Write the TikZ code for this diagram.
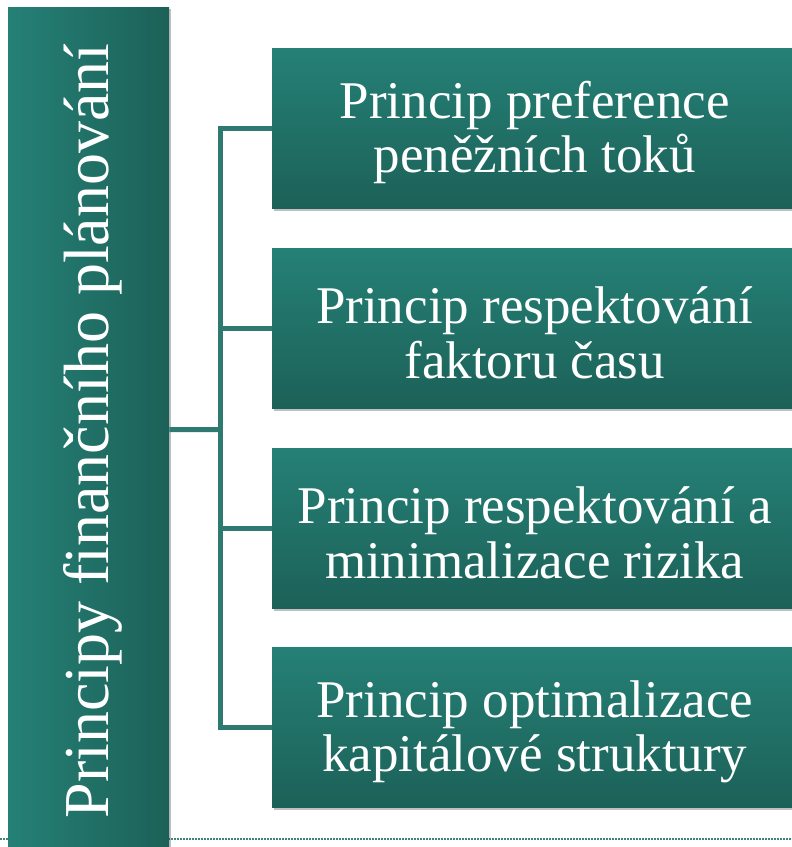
\documentclass[tikz,border=0pt]{standalone}
\usepackage{fontspec}
\setmainfont{Liberation Serif}
\usetikzlibrary{shadows,calc}
\definecolor{tealA}{HTML}{258076}
\definecolor{tealB}{HTML}{1C6158}
\definecolor{conn}{HTML}{2E7A70}
\definecolor{dotc}{HTML}{3F857C}
\begin{document}
\begin{tikzpicture}[x=1pt,y=-1pt,
  lbox/.style={draw=none, left color=tealA, right color=tealB, minimum width=161pt, minimum height=845pt, inner sep=0pt, anchor=north west,
    drop shadow={shadow xshift=2pt, shadow yshift=-2pt, fill=black, opacity=0.25}},
  rbox/.style={draw=none, top color=tealA, bottom color=tealB, minimum width=525pt, minimum height=160pt, inner sep=0pt, anchor=north west,
    drop shadow={shadow xshift=2pt, shadow yshift=-3pt, fill=black, opacity=0.25}},
  btext/.style={text=white, align=center, font=\fontsize{53}{54.5}\selectfont, inner sep=0pt},
  connector/.style={draw=conn, line width=5pt}]
\useasboundingbox (0,0) rectangle (792,847);
\clip (0,0) rectangle (792,847);
\fill[white] (0,0) rectangle (792,847);
\draw[dotc, line width=1.6pt, dash pattern=on 1.5pt off 1.5pt] (0,839) -- (792,839);
% boxes
\node[lbox] (L) at (8,7) {};
\node[rbox] (b1) at (272,48) {};
\node[rbox] (b2) at (272,248) {};
\node[rbox] (b3) at (272,448) {};
\node[rbox] (b4) at (272,647) {};
% connectors
\coordinate (j) at (220.5,429.5);
\draw[connector] (b1.west) -| (j) |- (b4.west);
\draw[connector] (b2.west) -- (j |- b2.west);
\draw[connector] (b3.west) -- (j |- b3.west);
\draw[connector] (L.east) -- (j);
% texts
\node[rotate=90, anchor=base, text=white, font=\fontsize{64}{64}\selectfont, inner sep=0pt] (lt) at (108,431) {Principy finančního plánování};
\node[btext] (t1) at ($(b1.center)+(0,4.5)$) {Princip preference\\peněžních toků};
\node[btext] (t2) at ($(b2.center)+(0,4.5)$) {Princip respektování\\faktoru času};
\node[btext] (t3) at ($(b3.center)+(0,4.5)$) {Princip respektování a\\minimalizace rizika};
\node[btext] (t4) at ($(b4.center)+(0,4.5)$) {Princip optimalizace\\kapitálové struktury};
\end{tikzpicture}
\end{document}
